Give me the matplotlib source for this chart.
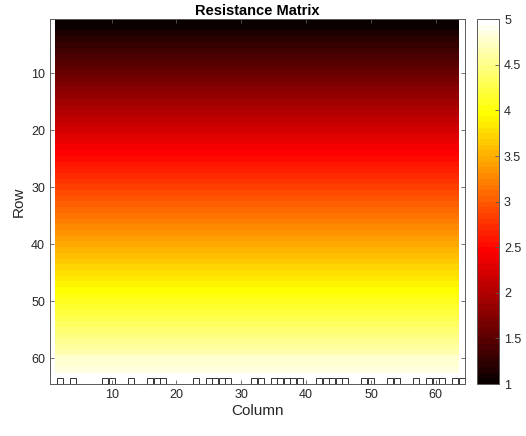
import numpy as np
import matplotlib
matplotlib.use("Agg")
import matplotlib.pyplot as plt

plt.rcParams['font.family'] = ['Liberation Sans', 'DejaVu Sans']

# Data ............................................................................................

# Resistance value of each row (row 1 at the top), every column identical
row_values = [1.00, 1.06, 1.13, 1.19, 1.25, 1.32, 1.38, 1.44, 1.51, 1.57, 1.63, 1.70, 1.76, 1.83, 1.89, 1.95,
              2.02, 2.08, 2.14, 2.21, 2.27, 2.33, 2.40, 2.46, 2.52, 2.59, 2.65, 2.71, 2.78, 2.84, 2.90, 2.97,
              3.03, 3.10, 3.16, 3.22, 3.29, 3.35, 3.41, 3.48, 3.54, 3.60, 3.67, 3.73, 3.79, 3.86, 3.92, 3.98,
              4.05, 4.11, 4.17, 4.24, 4.30, 4.37, 4.43, 4.49, 4.56, 4.62, 4.68, 4.75, 4.81, 4.87, 4.94, 5.00]
n_cols = 64

# Columns marked with a square on the last row
marked_cols = [2, 4, 9, 10, 13, 16, 17, 18, 23, 25, 26, 27, 28, 32, 33, 35, 36, 37, 38, 39,
               42, 43, 44, 45, 46, 49, 50, 53, 54, 57, 59, 60, 61, 63, 64]
marked_row = 64

axis_ticks = [10, 20, 30, 40, 50, 60]
cbar_ticks = [1, 1.5, 2, 2.5, 3, 3.5, 4, 4.5, 5]
cbar_labels = ['1', '1.5', '2', '2.5', '3', '3.5', '4', '4.5', '5']

matrix = np.tile(np.array(row_values)[:, None], (1, n_cols))

# Plot ............................................................................................

fig = plt.figure(figsize = (5.26, 4.36), dpi = 100)
ax = fig.add_axes([0.095, 0.119, 0.789, 0.837])
cax = fig.add_axes([0.907, 0.119, 0.042, 0.837])

edge = '#5a5a5a'
txt = '#262626'

im = ax.imshow(matrix, cmap = plt.get_cmap('hot', 64), vmin = 1, vmax = 5, aspect = 'auto',
               interpolation = 'nearest', extent = (1.25, 63.55, 64.5, 0.5))
ax.plot(marked_cols, [marked_row] * len(marked_cols), 's', ms = 4.4, mfc = 'none', mec = '#333333',
        mew = 0.7, clip_on = False)

ax.set_xlim(0.5, 64.5)
ax.set_ylim(64.5, 0.5)
ax.set_xticks(axis_ticks)
ax.set_yticks(axis_ticks)
ax.tick_params(direction = 'in', length = 3, width = 0.6, color = edge, labelcolor = txt,
               labelsize = 9, top = True, right = True)
for s in ax.spines.values():
    s.set_color(edge)
    s.set_linewidth(0.7)

ax.set_xlabel('Column', fontsize = 11, color = txt, labelpad = 2)
ax.set_ylabel('Row', fontsize = 11, color = txt, labelpad = 4)
ax.set_title('Resistance Matrix', fontsize = 10.5, fontweight = 'bold', color = 'black', pad = 3)

cb = fig.colorbar(im, cax = cax, ticks = cbar_ticks)
cb.ax.set_yticklabels(cbar_labels)
cb.ax.tick_params(direction = 'in', length = 3, width = 0.6, color = edge, labelcolor = txt, labelsize = 9)
cb.outline.set_edgecolor(edge)
cb.outline.set_linewidth(0.7)

fig.savefig('out.png', dpi = 100)
